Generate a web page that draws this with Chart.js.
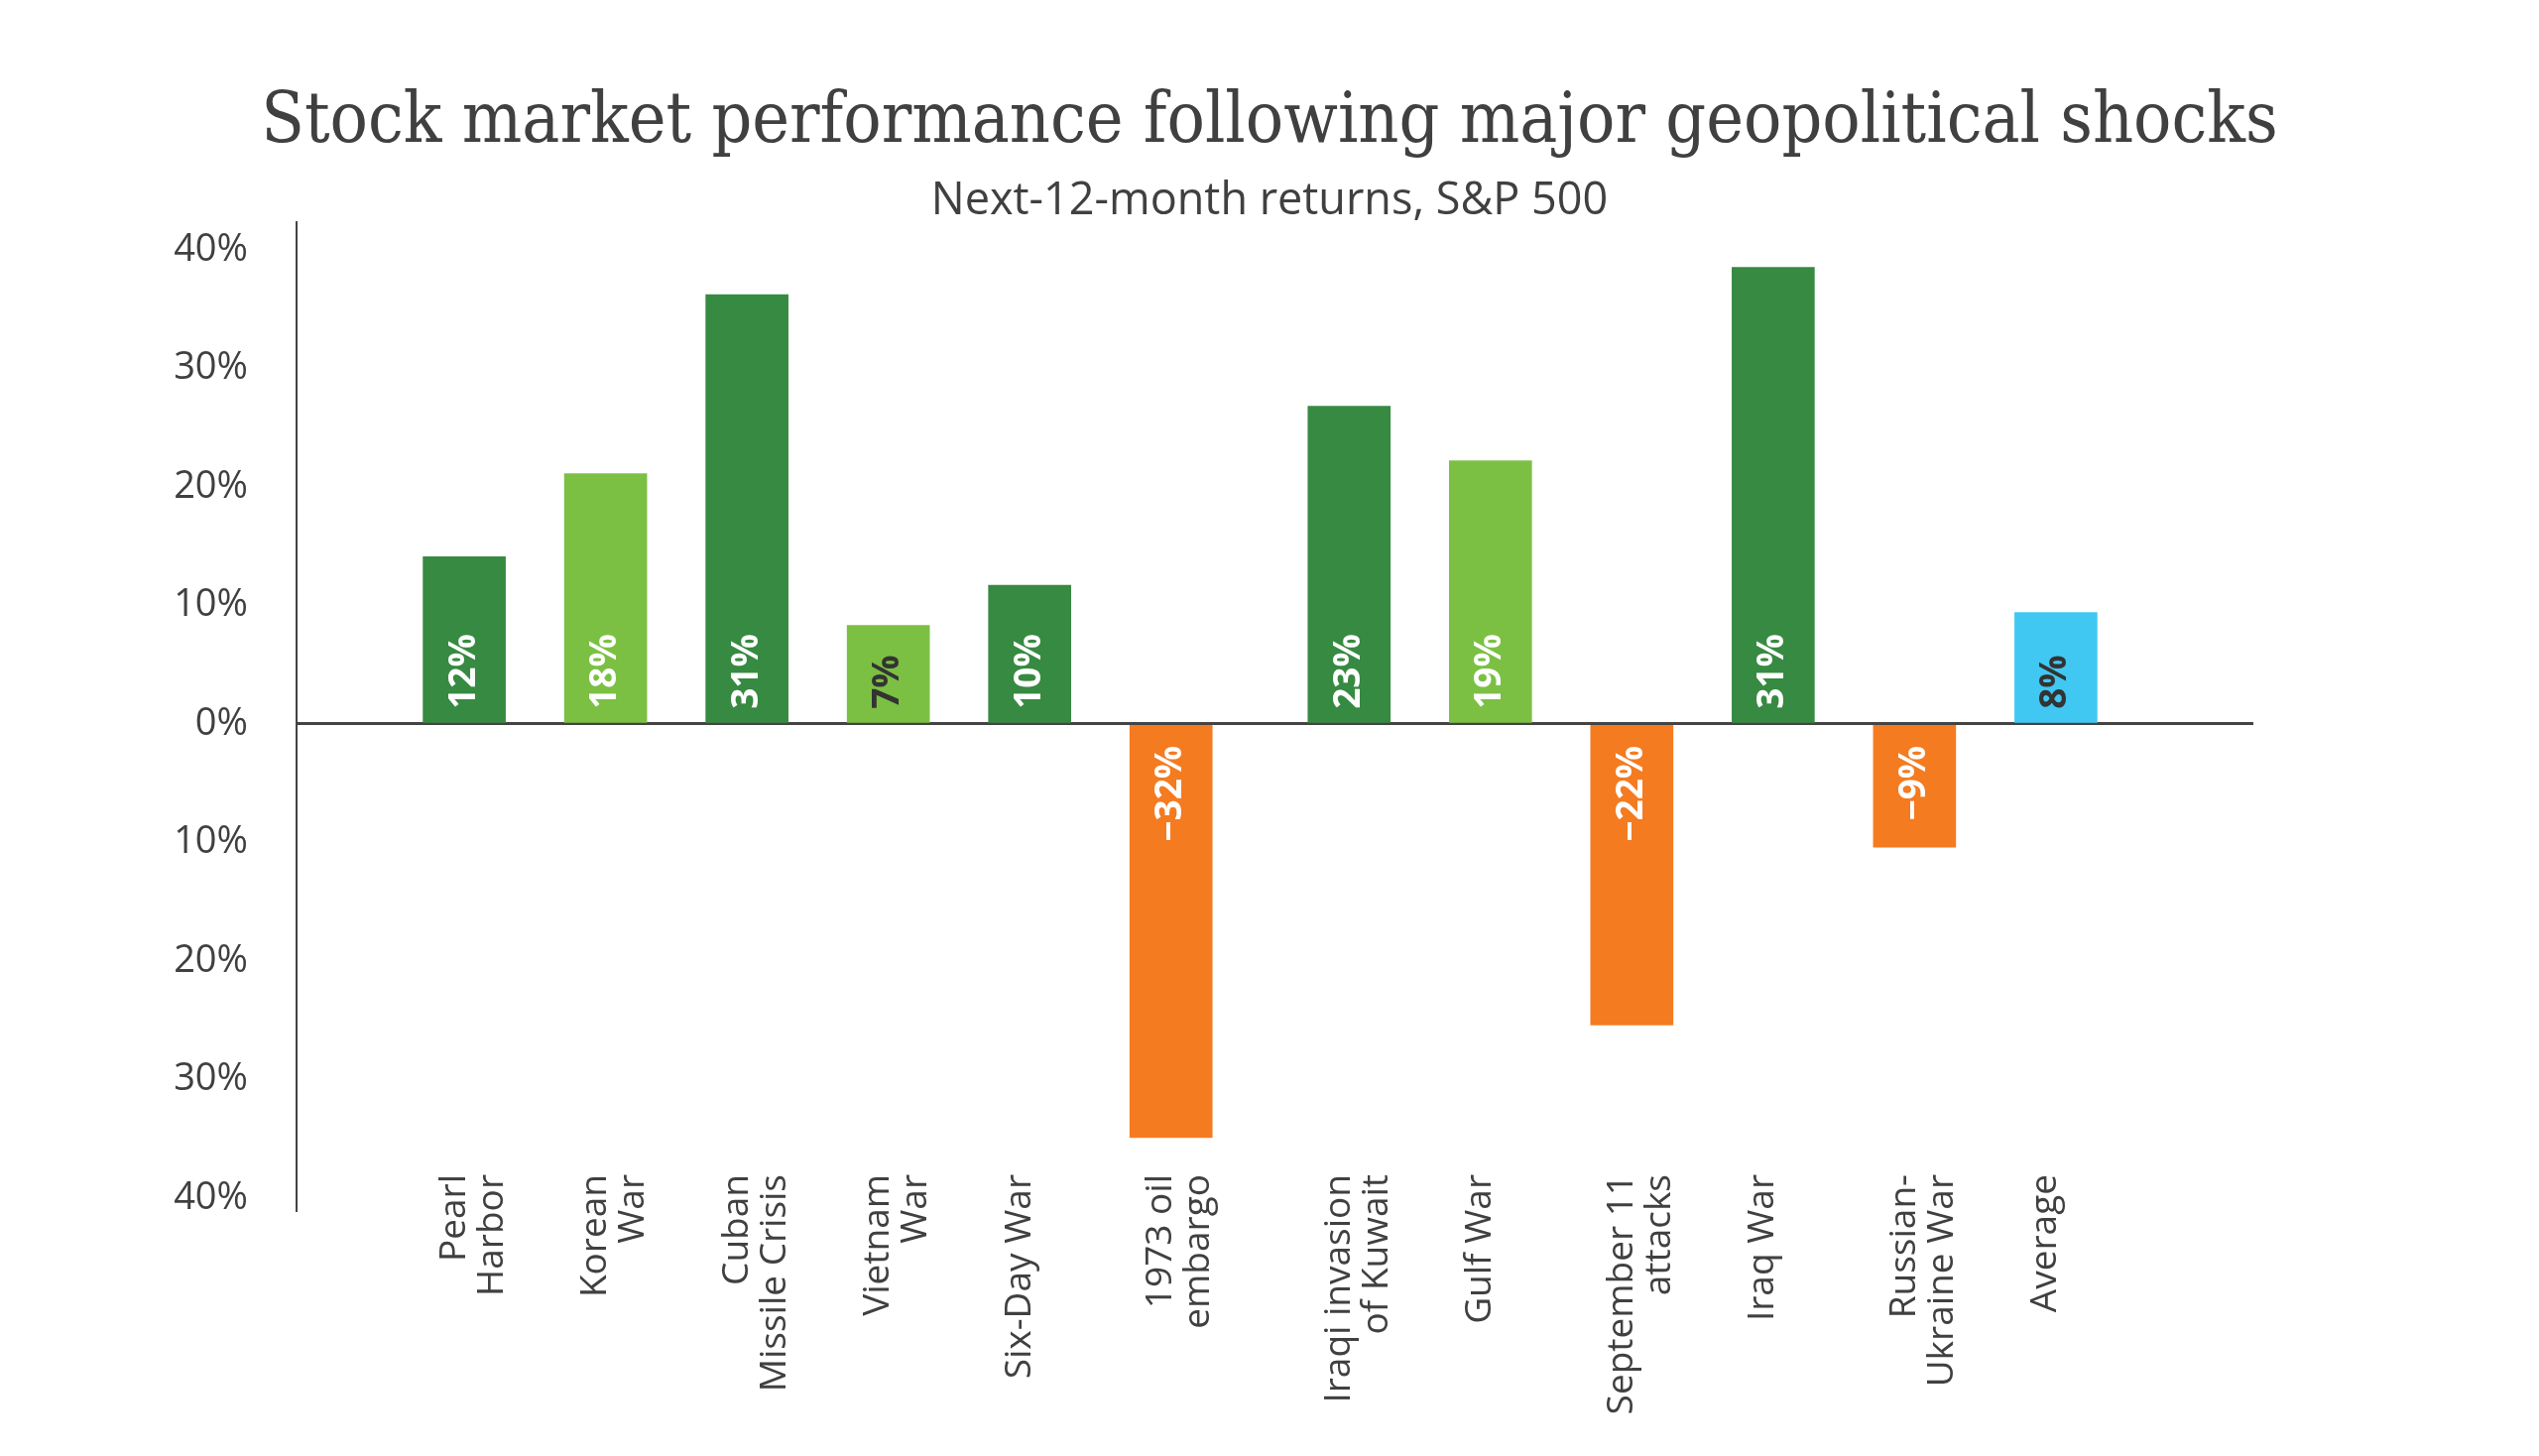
<!DOCTYPE html>
<html>
<head>
<meta charset="utf-8">
<script src="https://cdn.jsdelivr.net/npm/chart.js@4.4.1/dist/chart.umd.min.js"></script>
<style>
  html, body { margin: 0; padding: 0; background: #ffffff; }
  #wrap { width: 2560px; height: 1468px; position: relative; }
</style>
</head>
<body>
<div id="wrap"><canvas id="chart"></canvas></div>
<script>
// ---------------- data ----------------
const categories = [
  ['Pearl', 'Harbor'],
  ['Korean', 'War'],
  ['Cuban', 'Missile Crisis'],
  ['Vietnam', 'War'],
  'Six-Day War',
  ['1973 oil', 'embargo'],
  ['Iraqi invasion', 'of Kuwait'],
  'Gulf War',
  ['September 11', 'attacks'],
  'Iraq War',
  ['Russian-', 'Ukraine War'],
  'Average'
];
// bar heights as drawn in the picture (percent)
const returns = [14.1, 21.1, 36.2, 8.3, 11.7, -34.9, 26.8, 22.2, -25.4, 38.5, -10.4, 9.4];
// value labels printed inside the bars
const valueLabels = ['12%', '18%', '31%', '7%', '10%', '\u221232%', '23%', '19%', '\u221222%', '31%', '\u22129%', '8%'];
// y axis ticks
const yTickValues = [40, 30, 20, 10, 0, -10, -20, -30, -40];
const yTickLabels = ['40%', '30%', '20%', '10%', '0%', '10%', '20%', '30%', '40%'];

// ---------------- layout / styles ----------------
// the picture leaves a slightly wider gap after the 6th category
const GROUP_BREAK = 6, GROUP_GAP = 0.26;
const slotPositions = categories.map((_, i) => i + (i >= GROUP_BREAK ? GROUP_GAP : 0));

const DARK = '#368A41', LIGHT = '#7BC043', ORANGE = '#F47B20', BLUE = '#40C8F2';
const barColors = [DARK, LIGHT, DARK, LIGHT, DARK, ORANGE, DARK, LIGHT, ORANGE, DARK, ORANGE, BLUE];
const labelTextColors = ['#ffffff', '#ffffff', '#ffffff', '#333333', '#ffffff', '#ffffff',
                         '#ffffff', '#ffffff', '#ffffff', '#ffffff', '#ffffff', '#333333'];
const TEXT = '#404040';
const AXIS = '#444444';

const noLabelClip = s => { s._computeLabelArea = () => undefined; };

const valueLabelPlugin = {
  id: 'valueLabels',
  afterDatasetsDraw(chart) {
    const ctx = chart.ctx;
    const meta = chart.getDatasetMeta(0);
    const y0 = chart.scales.y.getPixelForValue(0);
    ctx.save();
    ctx.font = '700 37px "Open Sans"';
    ctx.textBaseline = 'middle';
    meta.data.forEach((bar, i) => {
      ctx.save();
      ctx.translate(bar.x, y0);
      ctx.rotate(-Math.PI / 2);
      ctx.fillStyle = labelTextColors[i];
      if (returns[i] >= 0) {
        ctx.textAlign = 'left';
        ctx.fillText(valueLabels[i], 15, 0);
      } else {
        ctx.textAlign = 'right';
        ctx.fillText(valueLabels[i], -22, 0);
      }
      ctx.restore();
    });
    ctx.restore();
  }
};

function build() {
  new Chart(document.getElementById('chart'), {
    type: 'bar',
    data: {
      datasets: [{
        data: returns.map((v, i) => ({ x: slotPositions[i], y: v })),
        backgroundColor: barColors,
        borderWidth: 0,
        barThickness: 83
      }]
    },
    plugins: [valueLabelPlugin],
    options: {
      responsive: true,
      maintainAspectRatio: false,
      animation: false,
      layout: { padding: { left: 200, right: 200, top: 0, bottom: 0 } },
      plugins: {
        legend: { display: false },
        tooltip: { enabled: false },
        title: {
          display: true,
          text: 'Stock market performance following major geopolitical shocks',
          color: TEXT,
          font: { family: '"DejaVu Serif Condensed", "DejaVu Serif"', size: 71, weight: 'normal', lineHeight: 1.1 },
          padding: { top: 86, bottom: 0 }
        },
        subtitle: {
          display: true,
          text: 'Next-12-month returns, S&P 500',
          color: TEXT,
          font: { family: '"Open Sans"', size: 45, weight: 'normal', lineHeight: 0.9 },
          padding: { top: 19, bottom: 0 }
        }
      },
      scales: {
        x: {
          type: 'linear',
          offset: false,
          min: -1.1865,
          max: 12.657,
          afterBuildTicks: s => { s.ticks = slotPositions.map(v => ({ value: v })); },
          afterFit: s => { s.height = 247; noLabelClip(s); },
          ticks: {
            autoSkip: false,
            minRotation: 90,
            maxRotation: 90,
            padding: -45,
            labelOffset: -10,
            color: TEXT,
            font: { family: '"Open Sans"', size: 37, lineHeight: 1.03 },
            callback: v => categories[slotPositions.indexOf(v)]
          },
          grid: { display: false, offset: false },
          border: { display: false }
        },
        y: {
          min: -41.09,
          max: 42.35,
          z: 1,
          afterBuildTicks: s => { s.ticks = yTickValues.map(v => ({ value: v })); },
          afterFit: s => { s.width = 99; noLabelClip(s); },
          ticks: {
            padding: 49,
            color: TEXT,
            font: { family: '"Open Sans"', size: 38 },
            callback: v => yTickLabels[yTickValues.indexOf(v)]
          },
          grid: {
            drawTicks: false,
            color: c => (c.tick && c.tick.value === 0) ? AXIS : 'rgba(0,0,0,0)',
            lineWidth: c => (c.tick && c.tick.value === 0) ? 3 : 1
          },
          border: { display: true, color: AXIS, width: 2 }
        },
        // empty right-hand margin so the plot ends where the picture's zero line ends
        rightMargin: {
          type: 'linear',
          position: 'right',
          display: true,
          afterFit: s => { s.width = 88; },
          ticks: { display: false },
          grid: { display: false },
          border: { display: false }
        }
      }
    }
  });
}

const fontLoads = [
  '400 38px "Open Sans"', '700 37px "Open Sans"',
  '400 71px "DejaVu Serif Condensed"', '400 71px "DejaVu Serif"'
].map(f => document.fonts.load(f).catch(() => null));
Promise.race([Promise.all(fontLoads), new Promise(r => setTimeout(r, 1500))]).then(build);
</script>
</body>
</html>
